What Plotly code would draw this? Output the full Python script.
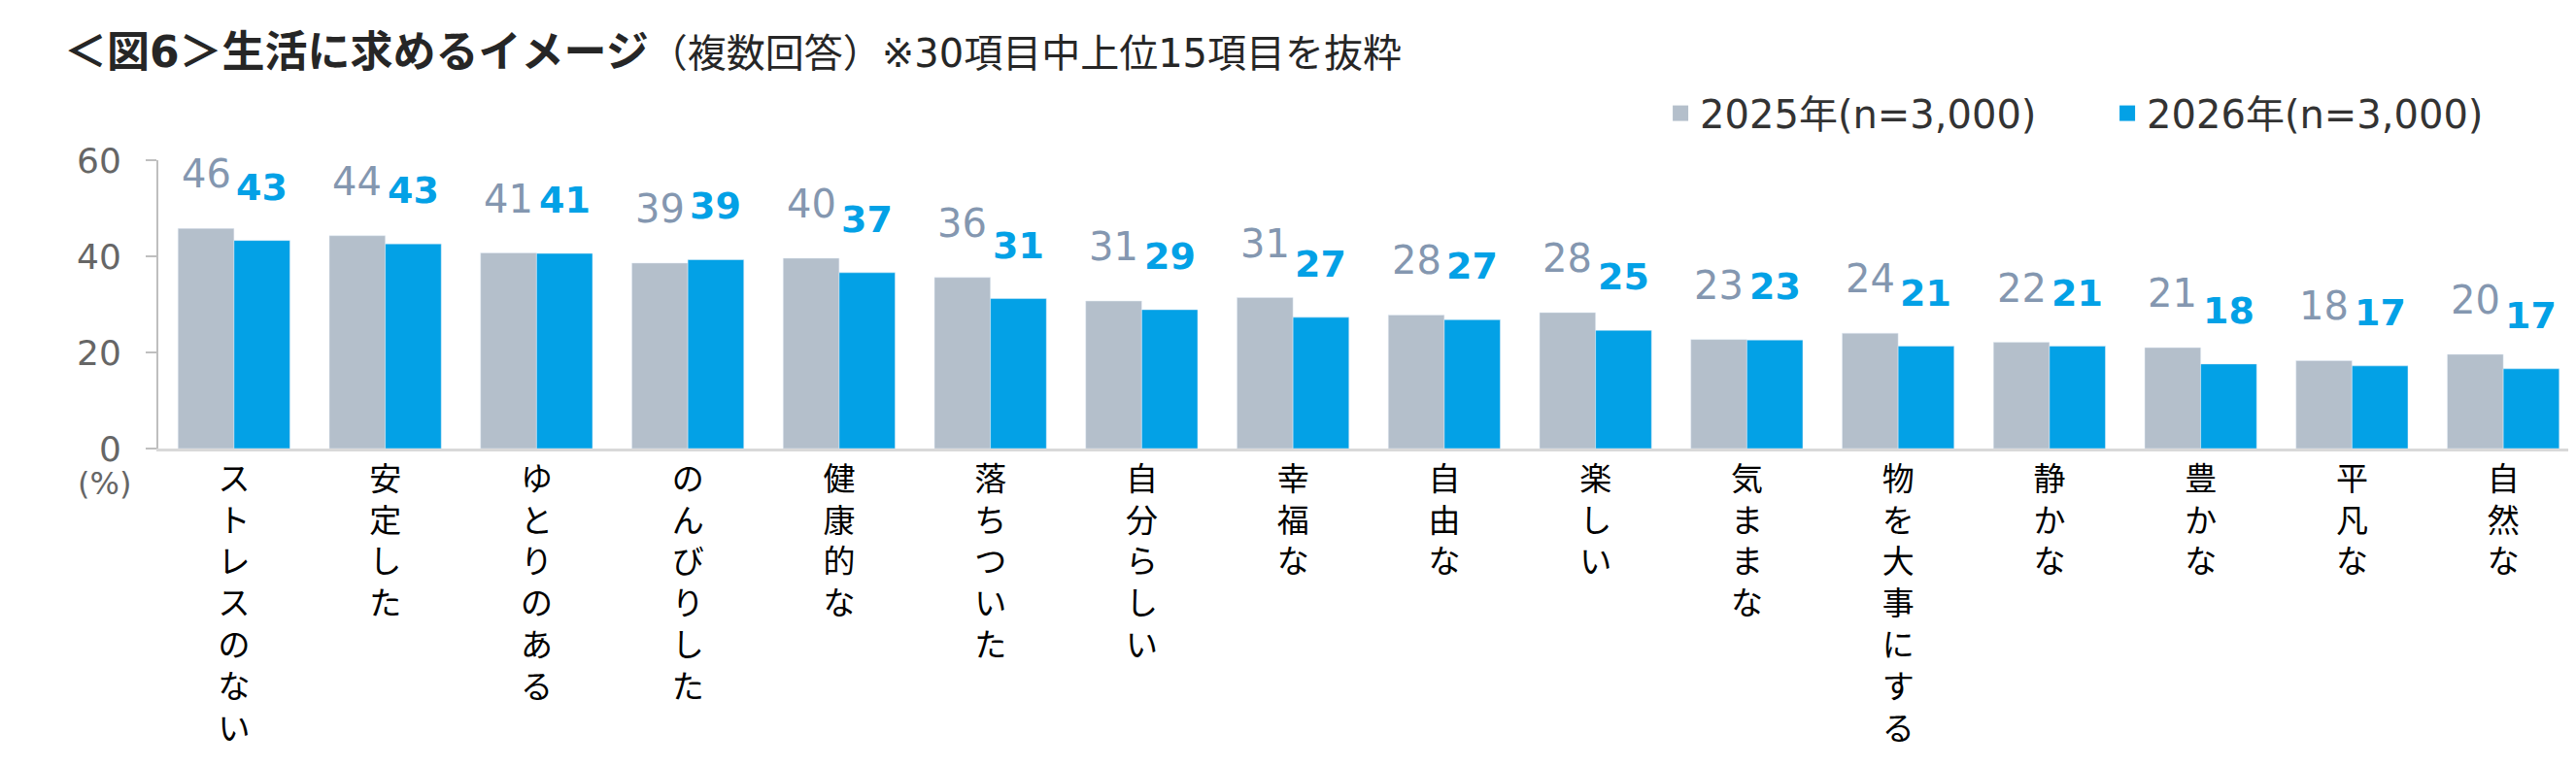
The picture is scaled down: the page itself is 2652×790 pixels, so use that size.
import plotly.graph_objects as go

# categories (top 15 of 30 items; vertical labels in the original)
categories = ["ストレスのない", "安定した", "ゆとりのある", "のんびりした", "健康的な",
              "落ちついた", "自分らしい", "幸福な", "自由な", "楽しい",
              "気ままな", "物を大事にする", "静かな", "豊かな", "平凡な", "自然な"]

# percentages (labels are the rounded values)
values_2025 = [45.8, 44.3, 40.7, 38.6, 39.6, 35.6, 30.7, 31.4, 27.8, 28.3,
               22.7, 24.0, 22.1, 21.0, 18.3, 19.6]
values_2026 = [43.3, 42.6, 40.6, 39.3, 36.6, 31.2, 28.9, 27.3, 26.8, 24.6,
               22.6, 21.3, 21.3, 17.6, 17.2, 16.6]

series_names = ["2025年(n=3,000)", "2026年(n=3,000)"]
y_ticks = [0, 20, 40, 60]

GRAY = "#b4bfcb"
BLUE = "#03a1e6"
GRAY_TXT = "#8497b0"
FONT = "DejaVu Sans, Noto Sans CJK JP"
JP = "Noto Sans CJK JP"

W, H = 2652, 790
ML, MR, MT, MB = 155, 5, 157, 336
BARGAP = 0.26

# stacked characters for the vertical category labels
tick_text = ["<br>".join(list(c)) for c in categories]

fig = go.Figure()
fig.add_trace(go.Bar(x=categories, y=values_2025, name=series_names[0],
                     marker_color=GRAY, showlegend=False))
fig.add_trace(go.Bar(x=categories, y=values_2026, name=series_names[1],
                     marker_color=BLUE, showlegend=False))

# legend-only entries so the swatches can be a bit bigger than the bar default
for name, col in zip(series_names, [GRAY, BLUE]):
    fig.add_trace(go.Scatter(x=[None], y=[None], mode="markers", name=name,
                             marker=dict(symbol="square", size=24, color=col)))

# value labels above each bar
cat_w = (W - ML - MR) / len(categories)
bar_w = cat_w * (1 - BARGAP) / 2
for c, a, b in zip(categories, values_2025, values_2026):
    fig.add_annotation(x=c, y=a, text=f"{a:.0f}", showarrow=False,
                       xshift=-bar_w / 2, yshift=31, yanchor="bottom",
                       font=dict(family=FONT, size=40, color=GRAY_TXT))
    fig.add_annotation(x=c, y=b, text=f"<b>{b:.0f}</b>", showarrow=False,
                       xshift=bar_w / 2, yshift=31, yanchor="bottom",
                       font=dict(family=FONT, size=38, color=BLUE))

# unit label under the y axis
fig.add_annotation(xref="paper", yref="paper", x=0, y=0, text="(%)",
                   showarrow=False, xanchor="right", yanchor="top",
                   xshift=-26, yshift=-15,
                   font=dict(family=FONT, size=32, color="#666666"))

fig.update_layout(
    width=W, height=H,
    margin=dict(l=ML, r=MR, t=MT, b=MB),
    paper_bgcolor="white", plot_bgcolor="white",
    barmode="group", bargap=BARGAP, bargroupgap=0,
    font=dict(family=FONT),
    title=dict(
        text="<b>＜図6＞生活に求めるイメージ</b>"
             "<span style='font-size:40px'>（複数回答）※30項目中上位15項目を抜粋</span>",
        xref="container", yref="container", x=58 / W, y=1 - 46 / H,
        xanchor="left", yanchor="middle",
        font=dict(family=FONT, size=44, color="#262626"),
    ),
    legend=dict(orientation="h", x=0.99, y=1.163, xanchor="right", yanchor="middle",
                entrywidth=415,
                font=dict(family=FONT, size=40, color="#333333"),
                bgcolor="rgba(0,0,0,0)"),
    xaxis=dict(tickmode="array", tickvals=categories, ticktext=tick_text,
               tickangle=0, showline=True, linecolor="#d9d9d9", linewidth=3,
               ticks="", showgrid=False, zeroline=False,
               tickfont=dict(family=JP, size=33, color="#000000")),
    yaxis=dict(range=[0, 60], tickvals=y_ticks, showline=True, linecolor="#bfbfbf",
               linewidth=2, ticks="outside", ticklen=11, tickcolor="#bfbfbf",
               tickwidth=2, showgrid=False, zeroline=False, ticklabelstandoff=18,
               tickfont=dict(family=FONT, size=36, color="#666666")),
)

fig.write_html("out.html")
